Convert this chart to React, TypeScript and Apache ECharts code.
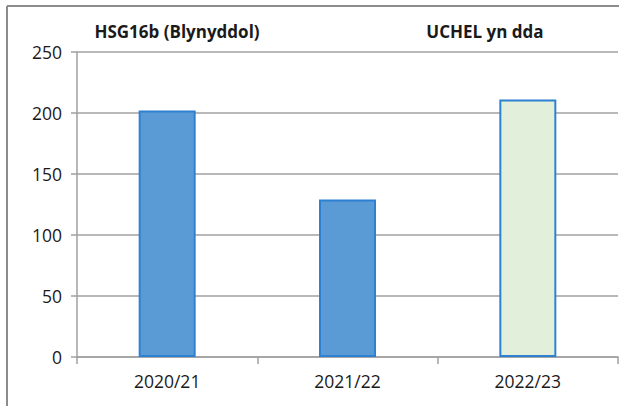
import React, { useEffect, useRef } from "react";
import * as echarts from "echarts";

const categories = ["2020/21", "2021/22", "2022/23"];
const values = [202, 129, 211];
const barColors = ["#5B9BD5", "#5B9BD5", "#E2EFDA"];
const yTicks = { min: 0, max: 250, interval: 50 };
const titleLeft = "HSG16b (Blynyddol)";
const titleRight = "UCHEL yn dda";

export default function App() {
  const ref = useRef<HTMLDivElement>(null);
  useEffect(() => {
    document.body.style.margin = "0";
    const chart = echarts.init(ref.current!, null, { renderer: "svg" });
    const font = "'Open Sans', sans-serif";
    chart.setOption({
      animation: false,
      grid: { left: 77, right: 2, top: 52, bottom: 49, containLabel: false },
      xAxis: {
        type: "category",
        data: categories,
        boundaryGap: true,
        axisLine: { lineStyle: { color: "#a0a0a0", width: 1.5 } },
        axisTick: { show: true, length: 7, alignWithLabel: false, lineStyle: { color: "#a0a0a0", width: 1.5 } },
        axisLabel: { color: "#1a1a1a", fontSize: 17.5, fontFamily: font, margin: 15 },
      },
      yAxis: {
        type: "value",
        min: yTicks.min,
        max: yTicks.max,
        interval: yTicks.interval,
        axisLine: { show: true, lineStyle: { color: "#a0a0a0", width: 1.5 } },
        axisTick: { show: true, length: 6, lineStyle: { color: "#a0a0a0", width: 1.5 } },
        axisLabel: { color: "#1a1a1a", fontSize: 17.5, fontFamily: font, margin: 15 },
        splitLine: { lineStyle: { color: "#a0a0a0", width: 1.5 } },
      },
      series: [
        {
          type: "bar",
          barWidth: 57,
          data: values.map((v, i) => ({
            value: v,
            itemStyle: { color: barColors[i], borderColor: "#2E80D2", borderWidth: 2 },
          })),
        },
      ],
      graphic: [
        { type: "line", shape: { x1: 7, y1: 6, x2: 619, y2: 6 }, style: { stroke: "#8c8c8c", lineWidth: 2 } },
        { type: "line", shape: { x1: 7, y1: 6, x2: 7, y2: 406 }, style: { stroke: "#8c8c8c", lineWidth: 2 } },
        {
          type: "text",
          x: 177,
          y: 31,
          style: { text: titleLeft, fill: "#1a1a1a", font: `bold 17px ${font}`, textAlign: "center", textVerticalAlign: "middle" },
        },
        {
          type: "text",
          x: 485,
          y: 31,
          style: { text: titleRight, fill: "#1a1a1a", font: `bold 17px ${font}`, textAlign: "center", textVerticalAlign: "middle" },
        },
      ],
    });
    return () => chart.dispose();
  }, []);
  return <div ref={ref} style={{ width: 620, height: 406 }} />;
}
